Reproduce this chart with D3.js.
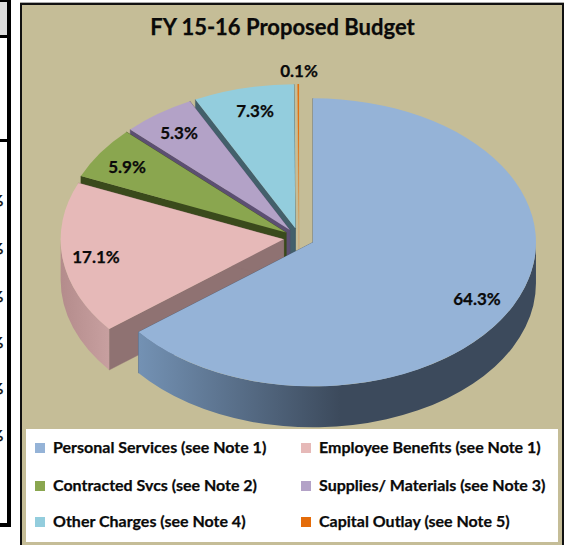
<!DOCTYPE html>
<html><head><meta charset="utf-8">
<script src="https://cdn.jsdelivr.net/npm/d3@7/dist/d3.min.js"></script>
<style>html,body{margin:0;padding:0;background:#fff}svg{display:block}text{font-family:Lato,"Open Sans",sans-serif;font-weight:700;fill:#0a0a0a;stroke:#0a0a0a;stroke-width:.25}</style>
</head><body><div id="c"></div>
<script>
const categories = ["Personal Services (see Note 1)","Employee Benefits (see Note 1)","Contracted Svcs (see Note 2)","Supplies/ Materials (see Note 3)","Other Charges (see Note 4)","Capital Outlay (see Note 5)"];
const shares = [64.3,17.1,5.9,5.3,7.3,0.1];
const topColors = ["#95b3d7","#e6b9b8","#8aa64f","#b3a2c7","#93cddd","#e46c0a"];
const faceColors = ["#4a5c74","#8f7272","#3a4a1c","#5c4f72","#43606b","#c9ad7a"];
const wallStops = [["#7391b3","#3c4a5c"],["#b48c8c","#c8a0a0"],["#3a4a1c","#3a4a1c"],["#5c4f72","#5c4f72"],["#43606b","#43606b"],["#c9ad7a","#c9ad7a"]];
const labelSpots = [[477,299],[96,257],[127,167],[179,133],[255,111],[299,71]];
const legendSpots = [[35,448],[301,448],[35,486],[301,486],[35,522],[301,522]];
const legendOrder = [0,1,2,3,4,5];
const title = "FY 15-16 Proposed Budget";

const W=569,H=545,cx=299,cy=238,rx=223,ry=144,explode=15.5,depth=41;
const svg=d3.select("#c").append("svg").attr("width",W).attr("height",H);
const defs=svg.append("defs");

// surrounding page: table fragment
svg.append("rect").attr("x",0).attr("y",2).attr("width",7).attr("height",33).attr("fill","#dcdcdc");
[[0,0,11,2],[7,0,4,527],[0,35,8,3],[0,139,8,3],[0,523,11,4]].forEach(r=>svg.append("rect").attr("x",r[0]).attr("y",r[1]).attr("width",r[2]).attr("height",r[3]).attr("fill","#000"));
[200,248,296,342,388,435].forEach(y=>svg.append("text").attr("x",-9).attr("y",y+6).attr("font-size",15).text("%"));

// chart frame
svg.append("rect").attr("x",20).attr("y",2).attr("width",544).attr("height",H).attr("fill","#c5bd97");
svg.append("rect").attr("x",21).attr("y",2.5).attr("width",542).attr("height",H).attr("fill","none").attr("stroke","#aaa").attr("stroke-width",1);
svg.append("rect").attr("x",21).attr("y",4).attr("width",542).attr("height",H).attr("fill","none").attr("stroke","#111").attr("stroke-width",2);

svg.append("text").attr("x",282.5).attr("y",35).attr("text-anchor","middle").attr("font-size",22).text(title);

// pie
const pie=d3.pie().sort(null).value(d=>d.v);
const arcs=pie(shares.map((v,i)=>({v,i})));
const arc=d3.arc().innerRadius(0).outerRadius(rx);
const k=ry/rx;
const pt=(o,a)=>[o[0]+rx*Math.sin(a),o[1]-ry*Math.cos(a)];
const f=p=>p[0]+","+p[1];

arcs.forEach(a=>{
  const i=a.data.i, mid=(a.startAngle+a.endAngle)/2;
  a.o=[cx+explode*Math.sin(mid),cy-explode*k*Math.cos(mid)];
  const s=wallStops[i];
  const xs=[pt(a.o,a.startAngle)[0],pt(a.o,a.endAngle)[0]];
  const g=defs.append("linearGradient").attr("id","w"+i).attr("gradientUnits","userSpaceOnUse");
  const range = i===0 ? [140,340] : i===1 ? [61,110] : [Math.min(...xs),Math.max(...xs)+1];
  g.attr("x1",range[0]).attr("x2",range[1]).attr("y1",0).attr("y2",0);
  g.append("stop").attr("offset",0).attr("stop-color",s[0]);
  g.append("stop").attr("offset",1).attr("stop-color",s[1]);
});

// painter's order: back slices first, front slice last
const order=[5,4,3,2,1,0];
const pieG=svg.append("g");
order.forEach(i=>{
  const a=arcs[i], o=a.o;
  [a.startAngle,a.endAngle].forEach(t=>{
    const p=pt(o,t);
    pieG.append("path").attr("fill",faceColors[i]).attr("stroke",faceColors[i]).attr("stroke-width",.4)
      .attr("d",`M${f(o)}L${f(p)}L${p[0]},${p[1]+depth}L${o[0]},${o[1]+depth}Z`);
  });
  const t0=Math.max(a.startAngle,Math.PI/2), t1=Math.min(a.endAngle,Math.PI*1.5);
  if(t1>t0){
    const p0=pt(o,t0),p1=pt(o,t1),large=(t1-t0>Math.PI)?1:0;
    pieG.append("path").attr("fill",`url(#w${i})`)
      .attr("d",`M${f(p0)}A${rx},${ry} 0 ${large} 1 ${f(p1)}L${p1[0]},${p1[1]+depth}A${rx},${ry} 0 ${large} 0 ${p0[0]},${p0[1]+depth}Z`);
  }
  pieG.append("path").attr("fill",topColors[i])
    .attr("transform",`translate(${o[0]},${o[1]}) scale(1,${k})`).attr("d",arc(a));
});

// value labels
shares.forEach((v,i)=>svg.append("text").attr("x",labelSpots[i][0]).attr("y",labelSpots[i][1]+5.5)
  .attr("text-anchor","middle").attr("font-size",17).text(v.toFixed(1)+"%"));

// legend
svg.append("rect").attr("x",26).attr("y",429).attr("width",532).attr("height",113).attr("fill","#fff");
legendOrder.forEach((i,n)=>{
  const [x,y]=legendSpots[n];
  svg.append("rect").attr("x",x).attr("y",y-5).attr("width",10).attr("height",10).attr("fill",topColors[i]);
  svg.append("text").attr("x",x+18).attr("y",y+5).attr("font-size",16).text(categories[i]);
});
</script></body></html>
